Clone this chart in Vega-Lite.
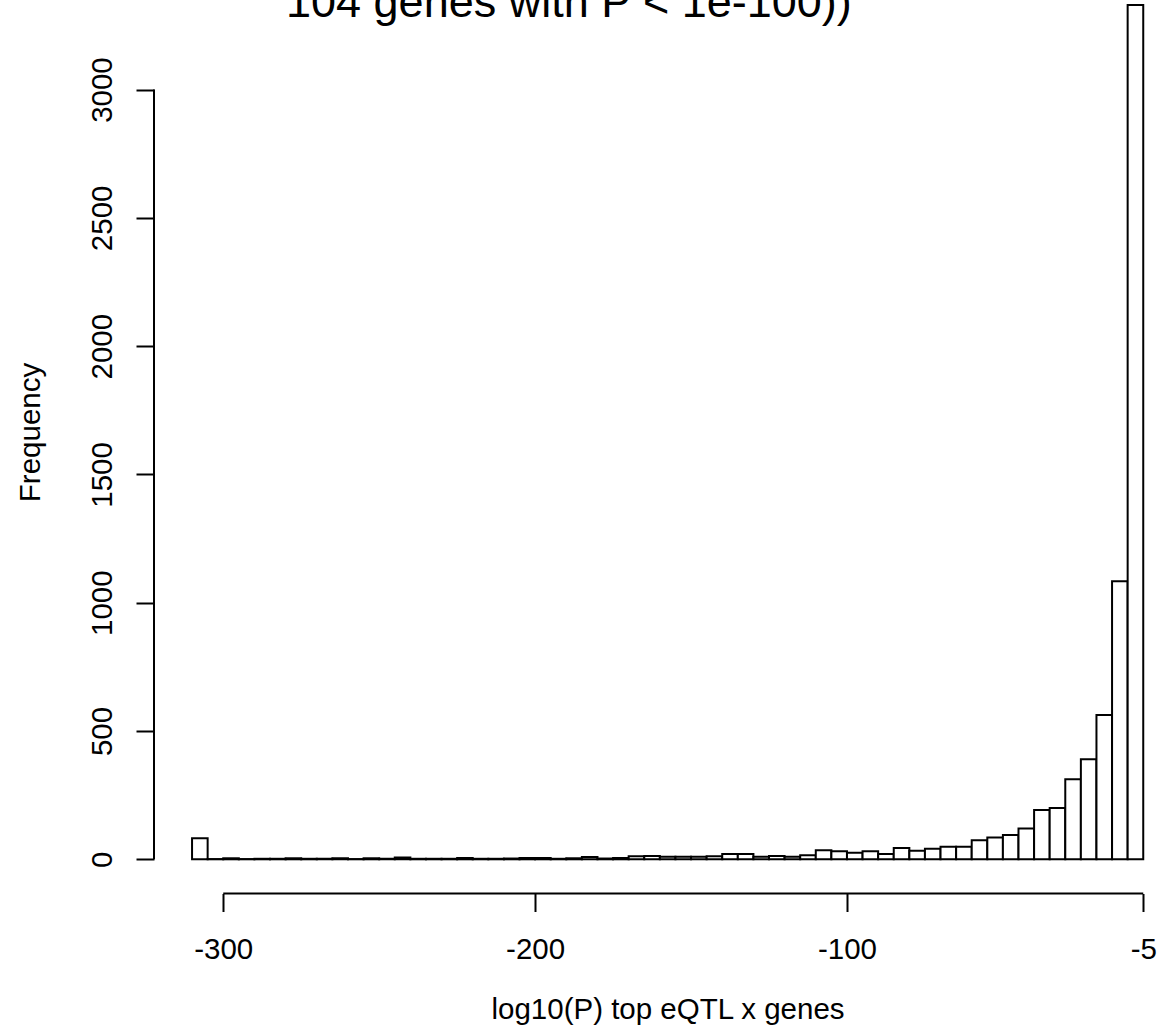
{
  "$schema": "https://vega.github.io/schema/vega-lite/v6.json",
  "autosize": {"type": "none"},
  "padding": {"left": 154, "top": 0, "right": 0, "bottom": 142.5},
  "width": 1017,
  "height": 893.5,
  "background": "white",
  "title": {
    "text": "104 genes with P < 1e-100))",
    "anchor": "start",
    "frame": "group",
    "font": "Liberation Sans",
    "fontSize": 45,
    "fontWeight": "normal",
    "color": "black",
    "offset": -26,
    "dx": 132
  },
  "config": {
    "view": {"stroke": null},
    "axis": {
      "grid": false,
      "domain": false,
      "ticks": true,
      "tickColor": "black",
      "tickWidth": 2,
      "tickSize": 18,
      "labelFont": "Liberation Sans",
      "labelFontSize": 29.5,
      "labelColor": "black",
      "labelFlush": false,
      "labelOverlap": false,
      "labelBound": false,
      "labelExpr": "'' + datum.value",
      "titleFont": "Liberation Sans",
      "titleFontSize": 29.5,
      "titleFontWeight": "normal",
      "titleColor": "black"
    }
  },
  "data": {
    "values": [
      {"start": -310, "end": -305, "count": 82},
      {"start": -305, "end": -300, "count": 1},
      {"start": -300, "end": -295, "count": 4},
      {"start": -295, "end": -290, "count": 1},
      {"start": -290, "end": -285, "count": 2},
      {"start": -285, "end": -280, "count": 2},
      {"start": -280, "end": -275, "count": 4},
      {"start": -275, "end": -270, "count": 2},
      {"start": -270, "end": -265, "count": 2},
      {"start": -265, "end": -260, "count": 4},
      {"start": -260, "end": -255, "count": 1},
      {"start": -255, "end": -250, "count": 4},
      {"start": -250, "end": -245, "count": 2},
      {"start": -245, "end": -240, "count": 7},
      {"start": -240, "end": -235, "count": 2},
      {"start": -235, "end": -230, "count": 2},
      {"start": -230, "end": -225, "count": 2},
      {"start": -225, "end": -220, "count": 5},
      {"start": -220, "end": -215, "count": 2},
      {"start": -215, "end": -210, "count": 2},
      {"start": -210, "end": -205, "count": 3},
      {"start": -205, "end": -200, "count": 5},
      {"start": -200, "end": -195, "count": 5},
      {"start": -195, "end": -190, "count": 2},
      {"start": -190, "end": -185, "count": 4},
      {"start": -185, "end": -180, "count": 9},
      {"start": -180, "end": -175, "count": 3},
      {"start": -175, "end": -170, "count": 5},
      {"start": -170, "end": -165, "count": 12},
      {"start": -165, "end": -160, "count": 13},
      {"start": -160, "end": -155, "count": 10},
      {"start": -155, "end": -150, "count": 10},
      {"start": -150, "end": -145, "count": 10},
      {"start": -145, "end": -140, "count": 12},
      {"start": -140, "end": -135, "count": 21},
      {"start": -135, "end": -130, "count": 21},
      {"start": -130, "end": -125, "count": 10},
      {"start": -125, "end": -120, "count": 13},
      {"start": -120, "end": -115, "count": 10},
      {"start": -115, "end": -110, "count": 16},
      {"start": -110, "end": -105, "count": 35},
      {"start": -105, "end": -100, "count": 31},
      {"start": -100, "end": -95, "count": 26},
      {"start": -95, "end": -90, "count": 31},
      {"start": -90, "end": -85, "count": 21},
      {"start": -85, "end": -80, "count": 44},
      {"start": -80, "end": -75, "count": 33},
      {"start": -75, "end": -70, "count": 41},
      {"start": -70, "end": -65, "count": 49},
      {"start": -65, "end": -60, "count": 49},
      {"start": -60, "end": -55, "count": 74},
      {"start": -55, "end": -50, "count": 85},
      {"start": -50, "end": -45, "count": 95},
      {"start": -45, "end": -40, "count": 120},
      {"start": -40, "end": -35, "count": 192},
      {"start": -35, "end": -30, "count": 200},
      {"start": -30, "end": -25, "count": 312},
      {"start": -25, "end": -20, "count": 390},
      {"start": -20, "end": -15, "count": 562},
      {"start": -15, "end": -10, "count": 1084},
      {"start": -10, "end": -5, "count": 3330}
    ]
  },
  "layer": [
    {
      "mark": {"type": "rect", "fill": "white", "stroke": "black", "strokeWidth": 2},
      "encoding": {
        "x": {
          "field": "start",
          "type": "quantitative",
          "scale": {"domain": [-322.2, 3.9], "nice": false, "zero": false},
          "axis": {
            "values": [-300, -200, -100, -5],
            "labelBaseline": "alphabetic",
            "labelAlign": "center",
            "labelPadding": 47,
            "title": "log10(P) top eQTL x genes",
            "titleBaseline": "alphabetic",
            "titleAlign": "center",
            "titleAnchor": null,
            "titleX": 513.5,
            "titleY": 124.5
          }
        },
        "x2": {"field": "end"},
        "y": {
          "field": "count",
          "type": "quantitative",
          "scale": {"domain": [-133.3, 3349], "nice": false, "zero": false},
          "axis": {
            "values": [0, 500, 1000, 1500, 2000, 2500, 3000],
            "labelAngle": 270,
            "labelAlign": "center",
            "labelBaseline": "alphabetic",
            "labelPadding": 24.3,
            "title": "Frequency",
            "titleAngle": 270,
            "titleBaseline": "alphabetic",
            "titleAlign": "center",
            "titleAnchor": null,
            "titleX": -114.7,
            "titleY": 432
          }
        },
        "y2": {"datum": 0}
      }
    },
    {
      "data": {"values": [{"x1": -300, "x2": -5, "yv": -133.3}]},
      "mark": {"type": "rule", "stroke": "black", "strokeWidth": 2},
      "encoding": {
        "x": {"field": "x1", "type": "quantitative"},
        "x2": {"field": "x2"},
        "y": {"field": "yv", "type": "quantitative"}
      }
    },
    {
      "data": {"values": [{"xv": -322.2, "y1": 0, "y2": 3000}]},
      "mark": {"type": "rule", "stroke": "black", "strokeWidth": 2},
      "encoding": {
        "x": {"field": "xv", "type": "quantitative"},
        "y": {"field": "y1", "type": "quantitative"},
        "y2": {"field": "y2"}
      }
    }
  ]
}
